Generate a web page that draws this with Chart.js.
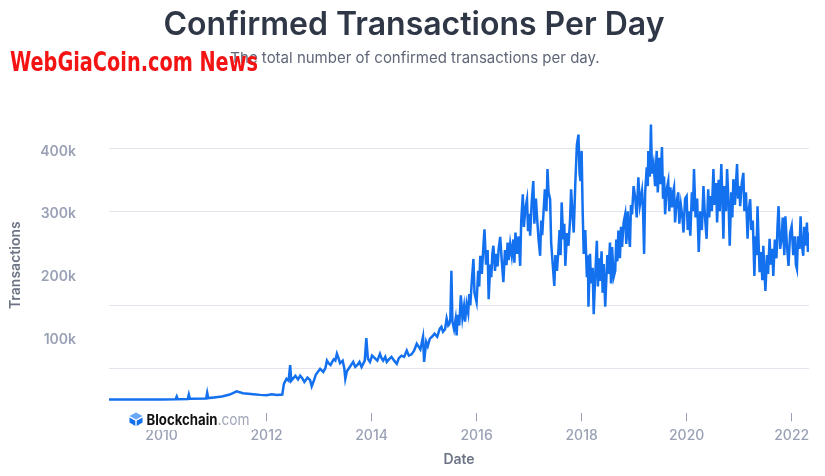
<!DOCTYPE html>
<html>
<head>
<meta charset="utf-8">
<script src="https://cdn.jsdelivr.net/npm/chart.js@4.4.1/dist/chart.umd.min.js"></script>
<style>
  body { margin: 0; background: #fff; }
  #grafico { display: block; }
</style>
</head>
<body>
<canvas id="grafico" width="825" height="476"></canvas>
<script>
// dates as decimal years, values in thousands of transactions
const anos = [
  2009.00, 2009.50, 2010.00, 2010.27, 2010.29, 2010.31, 2010.50, 2010.52, 2010.54, 2010.85,
  2010.87, 2010.89, 2011.00, 2011.15, 2011.30, 2011.43, 2011.55, 2011.75, 2011.88, 2012.00,
  2012.10, 2012.20, 2012.30, 2012.33, 2012.38, 2012.42, 2012.45, 2012.47, 2012.50, 2012.55,
  2012.60, 2012.64, 2012.68, 2012.72, 2012.78, 2012.83, 2012.86, 2012.90, 2012.94, 2013.02,
  2013.08, 2013.12, 2013.15, 2013.18, 2013.22, 2013.25, 2013.28, 2013.31, 2013.34, 2013.37,
  2013.40, 2013.45, 2013.48, 2013.50, 2013.53, 2013.57, 2013.61, 2013.65, 2013.69, 2013.73,
  2013.77, 2013.81, 2013.87, 2013.90, 2013.93, 2013.97, 2014.01, 2014.06, 2014.11, 2014.16,
  2014.19, 2014.22, 2014.26, 2014.29, 2014.33, 2014.38, 2014.43, 2014.48, 2014.52, 2014.57,
  2014.62, 2014.67, 2014.71, 2014.76, 2014.81, 2014.86, 2014.90, 2014.93, 2014.98, 2015.00,
  2015.04, 2015.07, 2015.11, 2015.15, 2015.20, 2015.25, 2015.30, 2015.33, 2015.36, 2015.40,
  2015.43, 2015.46,
  2015.48, 2015.50, 2015.52, 2015.54, 2015.57, 2015.60, 2015.62, 2015.64, 2015.67, 2015.70,
  2015.73, 2015.76, 2015.78, 2015.81, 2015.84, 2015.86, 2015.88, 2015.91, 2015.94, 2015.96,
  2016.00, 2016.03, 2016.05, 2016.07, 2016.10, 2016.13, 2016.15, 2016.18, 2016.21, 2016.23,
  2016.26, 2016.28, 2016.30, 2016.32, 2016.35, 2016.38, 2016.40, 2016.42, 2016.45, 2016.48,
  2016.51, 2016.54, 2016.57, 2016.59, 2016.61, 2016.64, 2016.67, 2016.70, 2016.72, 2016.74,
  2016.77, 2016.80, 2016.83, 2016.85, 2016.88, 2016.90, 2016.93, 2016.96, 2016.98, 2017.00,
  2017.02, 2017.05, 2017.08, 2017.10, 2017.13, 2017.15, 2017.18, 2017.21, 2017.23, 2017.25,
  2017.27, 2017.30, 2017.33, 2017.35, 2017.37, 2017.40, 2017.42, 2017.45, 2017.48, 2017.50,
  2017.53, 2017.56, 2017.58, 2017.60, 2017.62, 2017.65, 2017.67, 2017.69, 2017.72, 2017.75,
  2017.78, 2017.80, 2017.83, 2017.85, 2017.88, 2017.91, 2017.94, 2017.96, 2017.98, 2018.00,
  2018.02, 2018.04, 2018.07, 2018.10, 2018.12, 2018.13, 2018.16, 2018.18, 2018.21, 2018.23,
  2018.26, 2018.29, 2018.31, 2018.33, 2018.35, 2018.38, 2018.40, 2018.42, 2018.45, 2018.47,
  2018.49, 2018.51, 2018.54, 2018.56, 2018.58, 2018.61, 2018.64, 2018.66, 2018.68, 2018.70,
  2018.73, 2018.75, 2018.77, 2018.80, 2018.83, 2018.85, 2018.88, 2018.90, 2018.92, 2018.94,
  2018.96, 2018.99, 2019.02, 2019.05, 2019.08, 2019.11, 2019.15, 2019.17, 2019.19, 2019.21,
  2019.24, 2019.26, 2019.27, 2019.30, 2019.32, 2019.34, 2019.37, 2019.40, 2019.43, 2019.45,
  2019.48, 2019.50, 2019.53, 2019.55, 2019.57, 2019.59, 2019.62, 2019.65, 2019.67, 2019.69,
  2019.72, 2019.74, 2019.76, 2019.78, 2019.81, 2019.84, 2019.86, 2019.89, 2019.92, 2019.94,
  2019.97, 2020.00, 2020.02, 2020.04, 2020.07, 2020.10, 2020.12, 2020.14, 2020.17, 2020.20,
  2020.23, 2020.26, 2020.29, 2020.32, 2020.35, 2020.38, 2020.41, 2020.43, 2020.45, 2020.48,
  2020.51, 2020.53, 2020.56, 2020.58, 2020.61, 2020.63, 2020.66, 2020.68, 2020.70, 2020.72,
  2020.75, 2020.77, 2020.80, 2020.82, 2020.85, 2020.87, 2020.89, 2020.92, 2020.94, 2020.96,
  2020.98, 2021.00, 2021.02, 2021.05, 2021.08, 2021.10, 2021.13, 2021.16, 2021.18, 2021.21,
  2021.23, 2021.26, 2021.29, 2021.31, 2021.33, 2021.35, 2021.37, 2021.39, 2021.42, 2021.44,
  2021.46, 2021.48, 2021.50, 2021.53, 2021.55, 2021.58, 2021.60, 2021.63, 2021.65, 2021.68,
  2021.71, 2021.73, 2021.75, 2021.78, 2021.81, 2021.83, 2021.86, 2021.88, 2021.91, 2021.94,
  2021.97, 2022.00, 2022.03, 2022.06, 2022.08, 2022.10, 2022.12, 2022.15, 2022.17, 2022.19,
  2022.22, 2022.24, 2022.27, 2022.29, 2022.31, 2022.33
]
const transacoes = [
  0.1, 0.2, 0.3, 0.6, 5, 0.7, 1.0, 8, 1.2, 1.8,
  11, 2.5, 3.5, 5, 8, 13, 10, 8.5, 7.5, 7,
  8.5, 7.5, 8, 25, 33, 30, 55, 30, 33, 38,
  32, 38, 34, 28, 35, 31, 21, 30, 40, 49,
  44, 50, 62, 58, 55, 60, 64, 62, 73, 66,
  58, 62, 50, 33, 45, 50, 55, 60, 52, 55,
  60, 52, 62, 98, 65, 60, 70, 66, 62, 73,
  66, 62, 68, 60, 64, 68, 62, 57, 66, 70,
  68, 78, 70, 72, 78, 89, 84, 80, 100, 60,
  92, 85, 97, 100, 105, 100, 113, 116, 108, 112,
  129, 118,
  120, 128, 205, 124, 112, 128, 102, 135, 118, 166,
  130, 148, 124, 152, 138, 168, 150, 190, 224, 170,
  155, 205, 180, 229, 200, 245, 271, 215, 238, 160,
  215, 195, 232, 245, 205, 232, 212, 240, 259, 220,
  187, 238, 214, 250, 222, 248, 229, 255, 218, 266,
  232, 260, 213, 285, 327, 275, 305, 319, 268, 296,
  261, 315, 348, 280, 320, 292, 255, 229, 285, 262,
  292, 335, 300, 367, 330, 319, 250, 215, 181, 230,
  205, 240, 270, 230, 314, 255, 280, 213, 265, 245,
  287, 335, 290, 266, 345, 406, 422, 360, 348, 396,
  300, 232, 270, 195, 230, 148, 232, 185, 210, 136,
  200, 253, 180, 225, 189, 236, 170, 216, 148, 190,
  230, 200, 250, 185, 243, 195, 205, 255, 220, 269,
  225, 275, 243, 282, 295, 248, 300, 262, 243, 310,
  295, 340, 322, 290, 354, 310, 332, 300, 232, 330,
  370, 340, 396, 355, 438, 360, 375, 340, 396, 330,
  385, 343, 402, 320, 355, 295, 335, 348, 300, 338,
  306, 330, 338, 282, 315, 330, 280, 310, 290, 266,
  320, 324, 270, 300, 261, 330, 300, 367, 290, 320,
  235, 300, 270, 340, 290, 256, 335, 290, 324, 300,
  367, 310, 345, 282, 350, 300, 375, 320, 256, 340,
  300, 367, 310, 245, 330, 290, 351, 310, 345, 375,
  320, 340, 308, 345, 361, 300, 330, 256, 300, 319,
  270, 285, 197, 260, 230, 308, 250, 203, 235, 190,
  245, 205, 173, 230, 200, 256, 215, 240, 197, 255,
  225, 275, 308, 240, 256, 290, 230, 292, 245, 213,
  265, 276, 230, 260, 215, 208, 260, 240, 292, 250,
  229, 275, 245, 282, 235, 266
]
const anosEixo = [2010, 2012, 2014, 2016, 2018, 2020, 2022]
const rotulosY = [100000, 200000, 300000, 400000]
const linhasGrade = [50000, 150000, 300000, 400000]

const pontos = anos.map((ano, i) => ({ x: ano, y: transacoes[i] * 1000 }))

function textoAjustado(ctx, texto, x, y, largura) {
  const medida = ctx.measureText(texto).width
  ctx.save()
  ctx.translate(x, y)
  ctx.scale(largura / medida, 1)
  ctx.fillText(texto, 0, 0)
  ctx.restore()
}

const marcas = {
  id: 'marcas',
  afterDraw(chart) {
    const ctx = chart.ctx
    ctx.save()
    ctx.textBaseline = 'alphabetic'
    // title and subtitle
    ctx.textAlign = 'center'
    ctx.fillStyle = '#2f3747'
    ctx.font = '600 32px Inter'
    ctx.fillText('Confirmed Transactions Per Day', 414, 35)
    ctx.fillStyle = '#5f6677'
    ctx.font = '400 15px Inter'
    ctx.fillText('The total number of confirmed transactions per day.', 415, 63)
    // blockchain logo
    ctx.textAlign = 'left'
    ctx.fillStyle = '#fff'
    ctx.fillRect(124, 408, 130, 22)
    ctx.fillStyle = '#6aa6f8'
    ctx.beginPath()
    ctx.moveTo(136, 412.5); ctx.lineTo(142.5, 416); ctx.lineTo(136, 419.5); ctx.lineTo(129.5, 416)
    ctx.closePath(); ctx.fill()
    ctx.fillStyle = '#1370ef'
    ctx.beginPath()
    ctx.moveTo(129.5, 417.5); ctx.lineTo(135.3, 420.8); ctx.lineTo(135.3, 426); ctx.lineTo(129.5, 422.5)
    ctx.closePath(); ctx.fill()
    ctx.beginPath()
    ctx.moveTo(142.5, 417.5); ctx.lineTo(136.7, 420.8); ctx.lineTo(136.7, 426); ctx.lineTo(142.5, 422.5)
    ctx.closePath(); ctx.fill()
    ctx.font = '700 15px Inter'
    ctx.fillStyle = '#111'
    textoAjustado(ctx, 'Blockchain', 146.5, 424.5, 71)
    ctx.font = '400 15px Inter'
    ctx.fillStyle = '#a0a6b6'
    textoAjustado(ctx, '.com', 217.5, 424.5, 32)
    // watermark
    ctx.font = 'bold 26px "Liberation Sans Narrow", "DejaVu Sans Condensed", sans-serif'
    ctx.fillStyle = '#f41414'
    textoAjustado(ctx, 'WebGiaCoin.com News', 10, 71, 248)
    ctx.restore()
  }
}

const grafico = new Chart(document.getElementById('grafico'), {
  type: 'line',
  data: {
    datasets: [{
      label: 'Transactions',
      data: pontos,
      borderColor: '#1370ef',
      borderWidth: 2.5,
      pointRadius: 0,
      tension: 0,
      fill: false
    }]
  },
  options: {
    responsive: false,
    animation: false,
    layout: { padding: { left: 0, right: 16, top: 117, bottom: 0 } },
    plugins: {
      legend: { display: false },
      tooltip: { enabled: false }
    },
    scales: {
      x: {
        type: 'linear',
        min: 2009,
        max: 2022.33,
        afterBuildTicks: (scale) => { scale.ticks = anosEixo.map(v => ({ value: v })) },
        ticks: {
          color: '#9aa1b5',
          font: { family: 'Inter', size: 14, weight: '500' },
          padding: 6,
          maxRotation: 0,
          callback: (v) => String(v)
        },
        grid: { display: true, drawOnChartArea: false, drawTicks: true, tickLength: 8, tickColor: '#9aa1b5', lineWidth: 1 },
        border: { display: false },
        title: {
          display: true,
          text: 'Date',
          color: '#6b7385',
          font: { family: 'Inter', size: 14, weight: '600' },
          padding: { top: 1, bottom: 8 }
        }
      },
      y: {
        min: -22000,
        max: 450000,
        afterBuildTicks: (scale) => {
          const todos = [...new Set([...rotulosY, ...linhasGrade])].sort((a, b) => a - b)
          scale.ticks = todos.map(v => ({ value: v }))
        },
        afterFit: (scale) => { scale.width = 109 },
        ticks: {
          color: '#9aa1b5',
          font: { family: 'Inter', size: 14, weight: '600' },
          padding: 33,
          labelOffset: 3,
          callback: (v) => rotulosY.includes(v) ? (v / 1000) + 'k' : ''
        },
        grid: {
          drawTicks: false,
          color: (ctx) => ctx.tick && linhasGrade.includes(ctx.tick.value) ? '#e3e5ec' : 'rgba(0,0,0,0)'
        },
        border: { display: false },
        title: {
          display: true,
          text: 'Transactions',
          color: '#6b7385',
          font: { family: 'Inter', size: 14, weight: '600' },
          padding: { top: 7, bottom: 19 }
        }
      }
    }
  },
  plugins: [marcas]
})
</script>
</body>
</html>
